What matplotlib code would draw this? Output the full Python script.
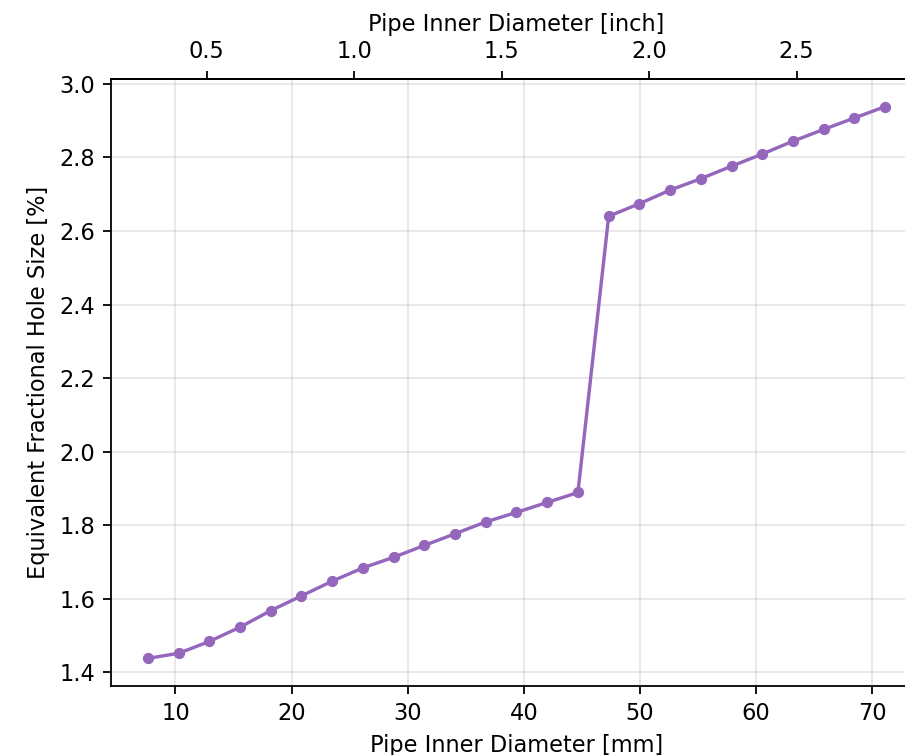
import numpy as np
import matplotlib
matplotlib.use('Agg')
import matplotlib.pyplot as plt

# pipe inner diameter in mm (0.3 .. 2.8 inch)
diameter_mm = [7.62, 10.27, 12.91, 15.56, 18.21, 20.85, 23.50, 26.14, 28.79,
               31.43, 34.08, 36.72, 39.37, 42.01, 44.66, 47.31, 49.95, 52.60,
               55.24, 57.89, 60.54, 63.18, 65.83, 68.47, 71.12]

# equivalent fractional hole size [%]
hole_size = [1.438, 1.452, 1.484, 1.523, 1.568, 1.608, 1.648, 1.684, 1.713,
             1.745, 1.777, 1.809, 1.835, 1.862, 1.889, 2.640, 2.674, 2.711,
             2.742, 2.776, 2.809, 2.844, 2.876, 2.907, 2.938]

DPI = 162
fig = plt.figure(figsize=(905 / DPI, 755 / DPI), dpi=DPI)
ax = fig.add_axes([111 / 905, 69 / 755, 811 / 905, 607 / 755])

ax.plot(diameter_mm, hole_size, color='tab:purple', marker='o', markersize=4)
ax.grid(True, alpha=0.3)
ax.set_xlabel('Pipe Inner Diameter [mm]')
ax.set_ylabel('Equivalent Fractional Hole Size [%]')

secax = ax.secondary_xaxis('top', functions=(lambda x: x / 25.4, lambda x: x * 25.4))
secax.set_xlabel('Pipe Inner Diameter [inch]')

fig.savefig('out.png', dpi=DPI)
